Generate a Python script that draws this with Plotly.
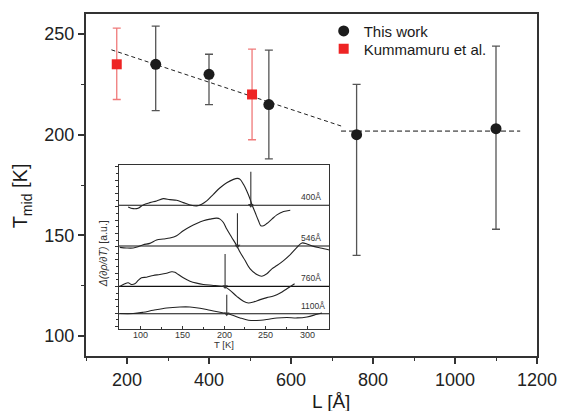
import plotly.graph_objects as go

# ---------------- main data ----------------
work_L = [270, 400, 546, 760, 1100]
work_T = [235, 230, 215, 200, 203]
work_hi = [254, 240, 242, 225, 244]
work_lo = [212, 215, 188, 140, 153]

kum_L = [175, 505]
kum_T = [235, 220]
kum_hi = [253, 242.5]
kum_lo = [217.5, 197.5]

fit_L = [162, 727]
fit_T = [242.2, 204]
flat_L = [722, 1159]
flat_T = [201.8, 201.8]

# ---------------- inset data ----------------
c400_T = [85.2, 91.2, 97.2, 103.2, 111.2, 119.2, 127.2, 135.2, 143.2, 151.2, 159.2, 167.2, 173.2,
          179.2, 187.2, 195.2, 203.2, 211.2, 216, 219.2, 223.2, 227.2, 231.2, 233.2, 237.2, 241.2,
          244, 247.2, 251.2, 257.2, 263.2, 271.2, 279.2]
c400_y = [123, 121.3, 121.7, 125, 127.3, 129, 131.3, 130.3, 129.7, 127.3, 125, 124, 125.7,
          129, 135.7, 142.3, 147.3, 150.7, 151.7, 150.7, 145.7, 139, 130.7, 125.7, 117.3, 109,
          104, 104, 106.3, 110.7, 115, 118.3, 119.7]

c546_T = [75.2, 83.2, 91.2, 97.2, 103.2, 111.2, 119.2, 127.2, 135.2, 143.2, 151.2, 159.2, 167.2,
          175.2, 183.2, 191.2, 195.2, 199.2, 203.2, 209.2, 215.2, 219.2, 225.2, 231.2, 239.2,
          245.2, 251.2, 257.2, 263.2, 271.2, 279.2, 287.2, 293.2, 299.2, 307.2, 315.2, 326]
c546_y = [82.3, 81.7, 81.7, 83, 85, 86.3, 89.7, 90.7, 91.7, 94, 99, 103, 106.3,
          109, 110.7, 111.7, 110.7, 107.3, 100.7, 92.3, 84, 77.3, 69, 60.7, 55,
          53.3, 55.7, 60.7, 64, 69, 75, 82.3, 86.7, 85.7, 83.3, 81.7, 79.7]

c760_T = [75.2, 81.2, 85.2, 89.2, 93.2, 97.2, 101.2, 107.2, 115.2, 123.2, 131.2, 137.2, 141.2,
          145.2, 151.2, 159.2, 167.2, 175.2, 187.2, 197.2, 201.2, 207.2, 215.2, 223.2, 229.2,
          235.2, 243.2, 251.2, 259.2, 267.2, 275.2, 284.4]
c760_y = [43, 45.7, 46.7, 45, 45.7, 49, 51.7, 52.3, 54, 55, 56.3, 57.7, 57.3,
          55, 51.7, 48.3, 46.3, 45, 44, 43, 42.3, 39, 33, 28, 26.3,
          27.3, 29.7, 31.7, 33.3, 36.3, 40.7, 45.7]

c1100_T = [75.2, 91.2, 103.2, 115.2, 131.2, 147.2, 159.2, 171.2, 183.2, 195.2, 203.2, 211.2,
           219.2, 229.2, 239.2, 251.2, 263.2, 275.2, 287.2, 299.2, 311.2, 317.2]
c1100_y = [15.7, 15.7, 17, 19, 21.3, 22.3, 22.3, 21, 19, 17, 15.7, 13.7,
           11.3, 9, 8.7, 9.7, 11.3, 11.7, 11.3, 12.3, 15, 16.3]

curve_labels = ["400Å", "546Å", "760Å", "1100Å"]
baselines = [124.7, 83.7, 43, 15.5]
arrow_T = [232, 216, 201.2, 203.2]
arrow_top = [158.3, 116.7, 75.7, 34.7]
inset_T_range = [74, 326]
inset_ticks = [100, 150, 200, 250, 300]

FONT = "Liberation Sans, Arial, sans-serif"

fig = go.Figure()

# dashed guide lines
fig.add_trace(go.Scatter(x=fit_L, y=fit_T, mode="lines", showlegend=False,
                         line=dict(color="#222", width=1, dash="4px,3px"), hoverinfo="skip"))
fig.add_trace(go.Scatter(x=flat_L, y=flat_T, mode="lines", showlegend=False,
                         line=dict(color="#777", width=1.6, dash="5px,3px"), hoverinfo="skip"))

fig.add_trace(go.Scatter(
    x=work_L, y=work_T, mode="markers", name="This work", legend="legend",
    marker=dict(symbol="circle", size=11, color="#1c1c1c"),
    error_y=dict(type="data", symmetric=False,
                 array=[h - v for h, v in zip(work_hi, work_T)],
                 arrayminus=[v - l for l, v in zip(work_lo, work_T)],
                 color="#555", thickness=1.3, width=4)))
fig.add_trace(go.Scatter(
    x=kum_L, y=kum_T, mode="markers", name="Kummamuru et al.", legend="legend2",
    marker=dict(symbol="square", size=10, color="#ee2424"),
    error_y=dict(type="data", symmetric=False,
                 array=[h - v for h, v in zip(kum_hi, kum_T)],
                 arrayminus=[v - l for l, v in zip(kum_lo, kum_T)],
                 color="#f07a7a", thickness=1.3, width=4)))

# inset baselines and curves
for b in baselines:
    fig.add_trace(go.Scatter(x=inset_T_range, y=[b, b], mode="lines", showlegend=False,
                             xaxis="x2", yaxis="y2", line=dict(color="#111", width=1.1),
                             hoverinfo="skip"))
for cx, cy in [(c400_T, c400_y), (c546_T, c546_y), (c760_T, c760_y), (c1100_T, c1100_y)]:
    fig.add_trace(go.Scatter(x=cx, y=cy, mode="lines", showlegend=False,
                             xaxis="x2", yaxis="y2", line=dict(color="#222", width=1.1, shape="spline"),
                             hoverinfo="skip"))

# arrows: vertical shaft + small downward head at the baseline
for t, top, b in zip(arrow_T, arrow_top, baselines):
    fig.add_trace(go.Scatter(x=[t, t], y=[top, b], mode="lines", showlegend=False,
                             xaxis="x2", yaxis="y2", line=dict(color="#333", width=1.1),
                             hoverinfo="skip"))
fig.add_trace(go.Scatter(x=arrow_T, y=baselines, mode="markers", showlegend=False,
                         xaxis="x2", yaxis="y2",
                         marker=dict(symbol="triangle-down", size=5, color="#333"),
                         hoverinfo="skip"))

annotations = []
for lab, b in zip(curve_labels, baselines):
    annotations.append(dict(x=290, y=b, xref="x2", yref="y2", text=lab, showarrow=False,
                            xanchor="left", yanchor="middle", yshift=8,
                            font=dict(family=FONT, size=8.5, color="#333")))
for t in inset_ticks:
    annotations.append(dict(x=t, y=0.0625, xref="x2", yref="paper", text=str(t), showarrow=False,
                            xanchor="center", yanchor="middle",
                            font=dict(family=FONT, size=9, color="#333")))

annotations.append(dict(x=-0.141, y=0.468, xref="paper", yref="paper", text="T<sub>mid</sub> [K]",
                        textangle=-90, showarrow=False, xanchor="center", yanchor="middle",
                        font=dict(family=FONT, size=20, color="#1a1a1a")))
annotations.append(dict(x=0.544, y=-0.133, xref="paper", yref="paper", text="L [Å]",
                        showarrow=False, xanchor="center", yanchor="middle",
                        font=dict(family=FONT, size=19, color="#1a1a1a")))
annotations.append(dict(x=0.0375, y=0.30, xref="paper", yref="paper",
                        text="<i>Δ(∂ρ/∂T)</i> [a.u.]",
                        textangle=-90, showarrow=False, xanchor="center", yanchor="middle",
                        font=dict(family=FONT, size=10.5, color="#333")))
annotations.append(dict(x=0.306, y=0.033, xref="paper", yref="paper", text="T [K]",
                        showarrow=False, xanchor="center", yanchor="middle",
                        font=dict(family=FONT, size=9.5, color="#333")))

legend_style = dict(xanchor="left", yanchor="top", bgcolor="rgba(0,0,0,0)",
                    font=dict(family=FONT, size=15, color="#1a1a1a"))

fig.update_layout(
    width=569, height=411,
    margin=dict(l=86, r=29, t=12, b=55, pad=0),
    paper_bgcolor="white", plot_bgcolor="white",
    font=dict(family=FONT, color="#1a1a1a"),
    showlegend=True,
    legend=dict(x=0.527, y=0.998, **legend_style),
    legend2=dict(x=0.527, y=0.946, **legend_style),
    xaxis=dict(range=[100, 1200], tickvals=[200, 400, 600, 800, 1000, 1200],
               ticks="outside", ticklen=6, tickwidth=1.5, tickcolor="#333",
               minor=dict(dtick=100, tick0=100, ticks="outside", ticklen=3, tickwidth=1.2, tickcolor="#333"),
               showline=True, linewidth=2, linecolor="#333", mirror=True,
               showgrid=False, zeroline=False,
               tickfont=dict(family=FONT, size=18, color="#222")),
    yaxis=dict(range=[90, 260], tickvals=[100, 150, 200, 250],
               ticks="outside", ticklen=6, tickwidth=1.5, tickcolor="#333",
               minor=dict(dtick=25, tick0=100, ticks="outside", ticklen=3, tickwidth=1.2, tickcolor="#333"),
               showline=True, linewidth=2, linecolor="#333", mirror=True,
               showgrid=False, zeroline=False,
               tickfont=dict(family=FONT, size=18, color="#222")),
    xaxis2=dict(domain=[0.0727, 0.5396], anchor="y2", range=inset_T_range,
                tickvals=inset_ticks, ticks="inside", ticklen=3, tickwidth=1,
                tickcolor="#333", showticklabels=False,
                minor=dict(dtick=25, tick0=75, ticks="inside", ticklen=2, tickcolor="#333"),
                showline=True, linewidth=1, linecolor="#333", mirror=True,
                showgrid=False, zeroline=False),
    yaxis2=dict(domain=[0.0785, 0.558], anchor="x2", range=[0, 165],
                tick0=16, dtick=13.4, ticks="outside", ticklen=3, tickwidth=1, tickcolor="#333",
                minor=dict(dtick=6.7, tick0=16, ticks="outside", ticklen=2, tickcolor="#333"),
                showticklabels=False,
                showline=True, linewidth=1, linecolor="#333", mirror=True,
                showgrid=False, zeroline=False),
    annotations=annotations,
)

fig.write_html("out.html", post_script="document.body.style.margin='0';",
               config={"displayModeBar": False})
